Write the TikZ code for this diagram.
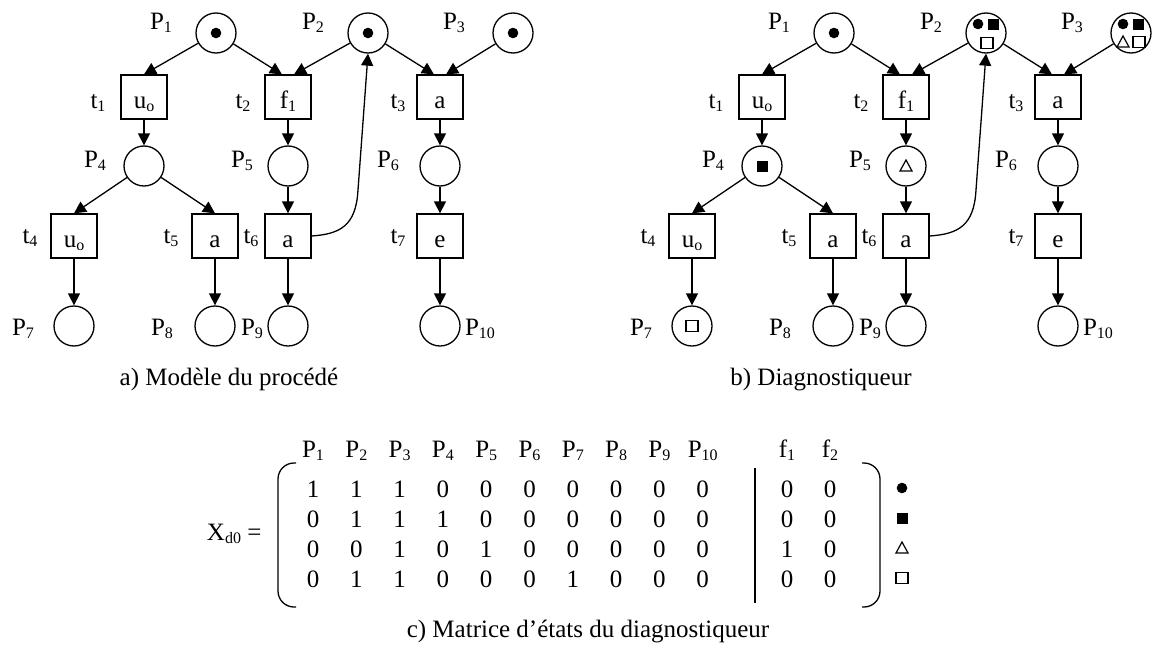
\documentclass[tikz,border=0pt]{standalone}
\usepackage{fontspec}
\setmainfont{Liberation Serif}
\usetikzlibrary{arrows.meta}
\newcommand{\sbs}[1]{\raisebox{-3pt}{\fontsize{16}{18}\selectfont #1}}

\begin{document}
\begin{tikzpicture}[x=1pt, y=-1pt, line width=1.3pt, font=\fontsize{25}{30}\selectfont,
    plc/.style={circle, draw, minimum size=40pt, inner sep=0pt},
    trn/.style={rectangle, draw, minimum width=46pt, minimum height=44pt, inner sep=0pt,
                text height=22pt, text depth=0pt},
    lbl/.style={anchor=base, inner sep=0pt},
    arc/.style={-{Triangle[length=12pt, width=12pt]}},
    tokdot/.pic={\fill (0,0) circle (5.3pt);},
    toksq/.pic={\fill (-5.5,-5.5) rectangle (5.5,5.5);},
    tokbox/.pic={\draw[line width=1.2pt] (-6,-5.5) rectangle (6,5.5);},
    toktri/.pic={\draw[line width=1.2pt] (-6,5) -- (6,5) -- (0,-6) -- cycle;}]
   \useasboundingbox (0,0) rectangle (1154,653);

   % the two nets: a) model, b) diagnoser
   \foreach \pre/\dx in {a/0, b/618} {
   \begin{scope}[xshift=\dx, name prefix=\pre-]
   \node[plc] (P1) at (216,33) {};
   \node[plc] (P2) at (368,33) {};
   \node[plc] (P3) at (513,33) {};
   \node[trn] (t1) at (144,97) {u\sbs{o}};
   \node[trn] (t2) at (288,97) {f\sbs{1}};
   \node[trn] (t3) at (440,97) {a};
   \node[plc] (P4) at (144,166) {};
   \node[plc] (P5) at (288,166) {};
   \node[plc] (P6) at (440,166) {};
   \node[trn] (t4) at (74,236) {u\sbs{o}};
   \node[trn] (t5) at (215,236) {a};
   \node[trn] (t6) at (288,236) {a};
   \node[trn] (t7) at (440,236) {e};
   \node[plc] (P7) at (74,326) {};
   \node[plc] (P8) at (215,326) {};
   \node[plc] (P9) at (288,326) {};
   \node[plc] (P10) at (440,326) {};

   \node[lbl] (lP1) at (161,29) {P\sbs{1}};
   \node[lbl] (lP2) at (313,29) {P\sbs{2}};
   \node[lbl] (lP3) at (454,29) {P\sbs{3}};
   \node[lbl] (lt1) at (98,108) {t\sbs{1}};
   \node[lbl] (lt2) at (243,108) {t\sbs{2}};
   \node[lbl] (lt3) at (398,108) {t\sbs{3}};
   \node[lbl] (lP4) at (95,167) {P\sbs{4}};
   \node[lbl] (lP5) at (242,167) {P\sbs{5}};
   \node[lbl] (lP6) at (388,167) {P\sbs{6}};
   \node[lbl] (lt4) at (30,243) {t\sbs{4}};
   \node[lbl] (lt5) at (171,243) {t\sbs{5}};
   \node[lbl] (lt6) at (251,243) {t\sbs{6}};
   \node[lbl] (lt7) at (398,243) {t\sbs{7}};
   \node[lbl] (lP7) at (23,335) {P\sbs{7}};
   \node[lbl] (lP8) at (162,335) {P\sbs{8}};
   \node[lbl] (lP9) at (252,335) {P\sbs{9}};
   \node[lbl] (lP10) at (480,335) {P\sbs{10}};

   \draw[arc] (P1) -- (t1.north);
   \draw[arc] (P1) -- (t2.105);
   \draw[arc] (P2) -- (t2.75);
   \draw[arc] (P2) -- (t3.105);
   \draw[arc] (P3) -- (t3.75);
   \draw[arc] (t1) -- (P4);
   \draw[arc] (t2) -- (P5);
   \draw[arc] (t3) -- (P6);
   \draw[arc] (P4) -- (t4.north);
   \draw[arc] (P4) -- (t5.north);
   \draw[arc] (P5) -- (t6);
   \draw[arc] (P6) -- (t7);
   \draw[arc] (t4) -- (P7);
   \draw[arc] (t5) -- (P8);
   \draw[arc] (t6) -- (P9);
   \draw[arc] (t7) -- (P10);
   \draw[arc] (t6.east) .. controls (340,234) and (356,226) .. (358,190) -- (P2.south);
   \end{scope}
   }

   % marking
   \pic at (a-P1) {tokdot};
   \pic at (a-P2) {tokdot};
   \pic at (a-P3) {tokdot};
   \pic at (b-P1) {tokdot};
   \pic at ([shift={(-8,-9)}]b-P2.center) {tokdot};
   \pic at ([shift={(7,-9)}]b-P2.center) {toksq};
   \pic at ([shift={(1,10)}]b-P2.center) {tokbox};
   \pic at ([shift={(-8,-9)}]b-P3.center) {tokdot};
   \pic at ([shift={(7,-9)}]b-P3.center) {toksq};
   \pic at ([shift={(-8,9)}]b-P3.center) {toktri};
   \pic at ([shift={(8,9)}]b-P3.center) {tokbox};
   \pic at (b-P4) {toksq};
   \pic at (b-P5) {toktri};
   \pic at (b-P7) {tokbox};

   \node[lbl] (capa) at (229,385) {a) Modèle du procédé};
   \node[lbl] (capb) at (821,385) {b) Diagnostiqueur};

   % state matrix
   \node[lbl, anchor=base east] (xd) at (262,540) {X\sbs{d0} =};
   \foreach \i in {1,...,10}
     \node[lbl] (h\i) at ({313+43.3*(\i-1)},457) {P\sbs{\i}};
   \node[lbl] (hf1) at (787,457) {f\sbs{1}};
   \node[lbl] (hf2) at (830,457) {f\sbs{2}};
   \foreach \vals [count=\r] in {{1,1,1,0,0,0,0,0,0,0},{0,1,1,1,0,0,0,0,0,0},
                                 {0,0,1,0,1,0,0,0,0,0},{0,1,1,0,0,0,1,0,0,0}}
     \foreach \v [count=\c] in \vals
       \node[lbl] (m\r-\c) at ({313+43.3*(\c-1)},{467+30*\r}) {\v};
   \foreach \vals [count=\r] in {{0,0},{0,0},{1,0},{0,0}}
     \foreach \v [count=\c] in \vals
       \node[lbl] (f\r-\c) at ({744+43*\c},{467+30*\r}) {\v};
   \draw (755,468) -- (755,603);
   \draw[rounded corners=16pt] (296,463) -| (278,607) -- (296,607);
   \draw[rounded corners=16pt] (862,463) -| (880,607) -- (862,607);
   \pic at (902,488) {tokdot};
   \pic at (902,518) {toksq};
   \pic at (902,548) {toktri};
   \pic at (902,578) {tokbox};

   \node[lbl] (capc) at (588,637) {c) Matrice d’états du diagnostiqueur};
\end{tikzpicture}
\end{document}
